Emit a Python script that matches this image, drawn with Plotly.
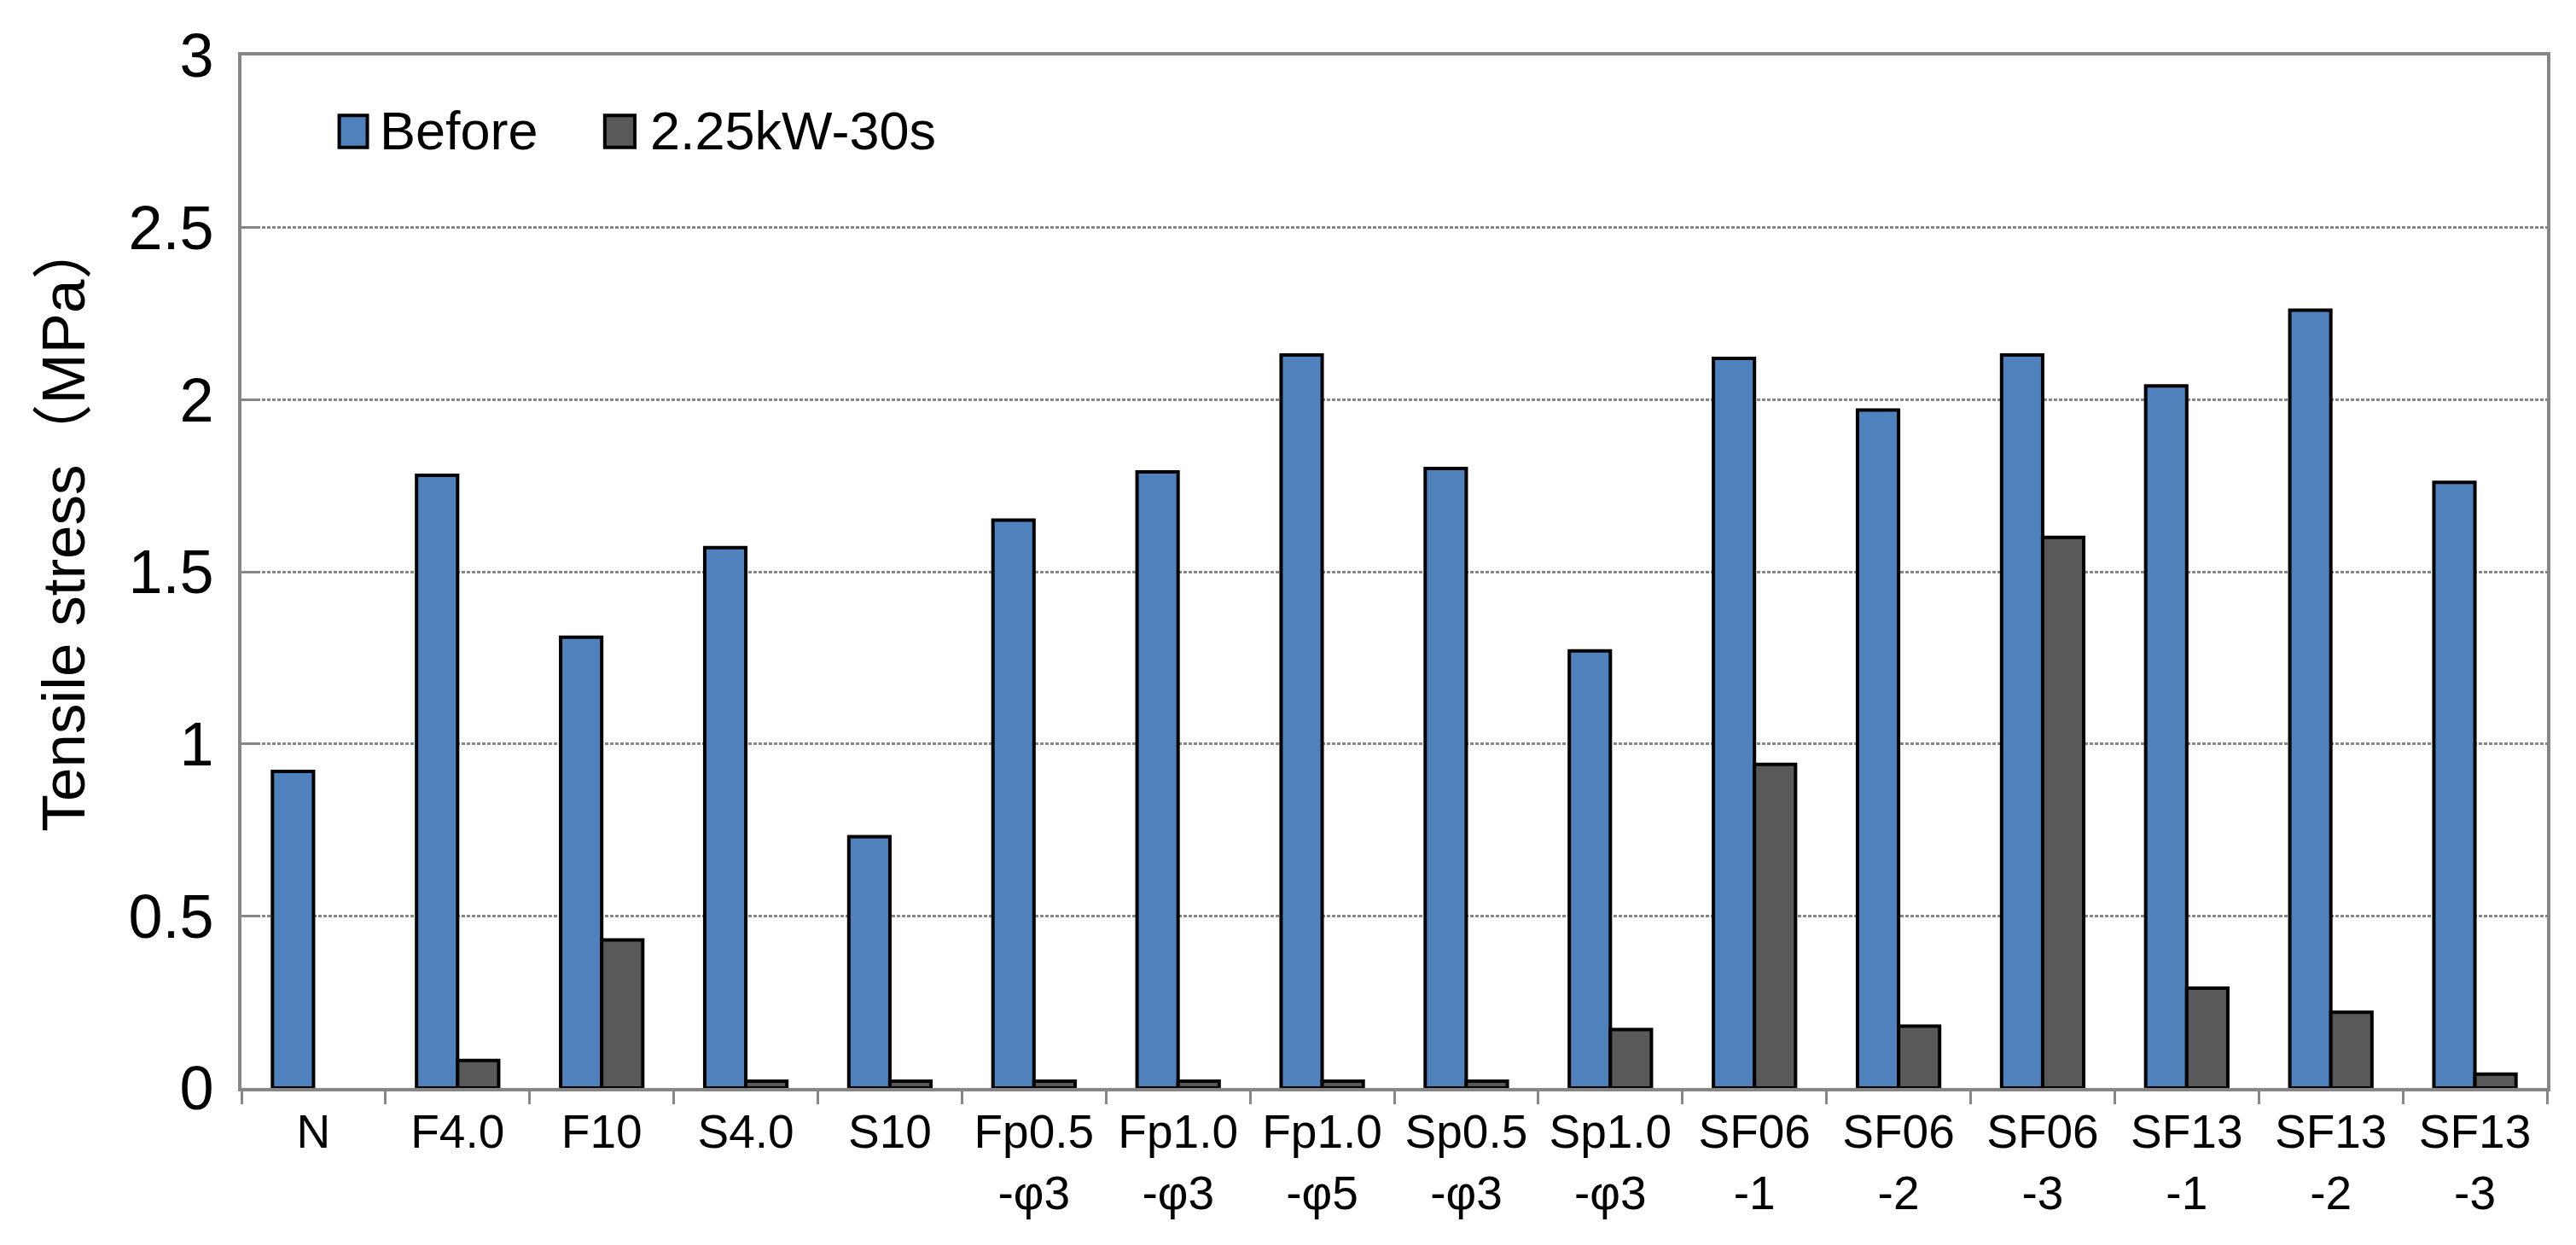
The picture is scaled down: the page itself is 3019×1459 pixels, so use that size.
import plotly.graph_objects as go

categories = ["N", "F4.0", "F10", "S4.0", "S10", "Fp0.5<br>-φ3", "Fp1.0<br>-φ3", "Fp1.0<br>-φ5",
              "Sp0.5<br>-φ3", "Sp1.0<br>-φ3", "SF06<br>-1", "SF06<br>-2", "SF06<br>-3",
              "SF13<br>-1", "SF13<br>-2", "SF13<br>-3"]
before = [0.92, 1.78, 1.31, 1.57, 0.73, 1.65, 1.79, 2.13, 1.80, 1.27, 2.12, 1.97, 2.13, 2.04, 2.26, 1.76]
after = [None, 0.08, 0.43, 0.02, 0.02, 0.02, 0.02, 0.02, 0.02, 0.17, 0.94, 0.18, 1.60, 0.29, 0.22, 0.04]
series_names = ["Before", "2.25kW-30s"]
series_colors = ["#4F81BD", "#595959"]
y_title = "Tensile stress（MPa）"

FONT = "Liberation Sans, Arial, Noto Sans CJK JP, sans-serif"
GRID = "#868686"

fig = go.Figure()
for name, vals, col in zip(series_names, [before, after], series_colors):
    fig.add_trace(go.Bar(x=categories, y=vals, name=name, marker_color=col,
                         marker_line_color="black", marker_line_width=4, showlegend=False))

# manual legend (large square swatches)
leg = [(0.0424, 0.0546, 0.0592), (0.1576, 0.1706, 0.1766)]
for (x0, x1, xt), name, col in zip(leg, series_names, series_colors):
    fig.add_shape(type="rect", xref="paper", yref="paper", x0=x0, x1=x1, y0=0.911, y1=0.942,
                  fillcolor=col, line=dict(color="black", width=4))
    fig.add_annotation(xref="paper", yref="paper", x=xt, y=0.927, text=name, showarrow=False,
                       xanchor="left", yanchor="middle", font=dict(size=63, color="black", family=FONT))

# y-axis title placed like the original
fig.add_annotation(xref="paper", yref="paper", x=-0.077, y=0.545, text=y_title, textangle=-90,
                   showarrow=False, xanchor="center", yanchor="middle",
                   font=dict(size=71, color="black", family=FONT))

fig.update_layout(
    width=3019, height=1459,
    margin=dict(l=275, r=42, t=57, b=192),
    paper_bgcolor="white", plot_bgcolor="white",
    barmode="group", bargap=0.43, bargroupgap=0,
    font=dict(family=FONT, color="black"),
)
fig.update_xaxes(
    type="category", showline=True, linecolor=GRID, linewidth=4, mirror=True,
    ticks="outside", tickson="boundaries", ticklen=15, tickwidth=3, tickcolor=GRID,
    tickfont=dict(size=55, color="black", family=FONT), showgrid=False,
)
fig.update_yaxes(
    range=[0, 3], dtick=0.5, showline=True, linecolor=GRID, linewidth=4, mirror=True,
    ticks="inside", ticklen=20, tickwidth=3, tickcolor=GRID,
    showgrid=True, gridcolor=GRID, gridwidth=3, griddash="4px,2px",
    tickfont=dict(size=72, color="black", family=FONT), ticklabelstandoff=14,
    zeroline=False,
)
fig.write_html("out.html")
